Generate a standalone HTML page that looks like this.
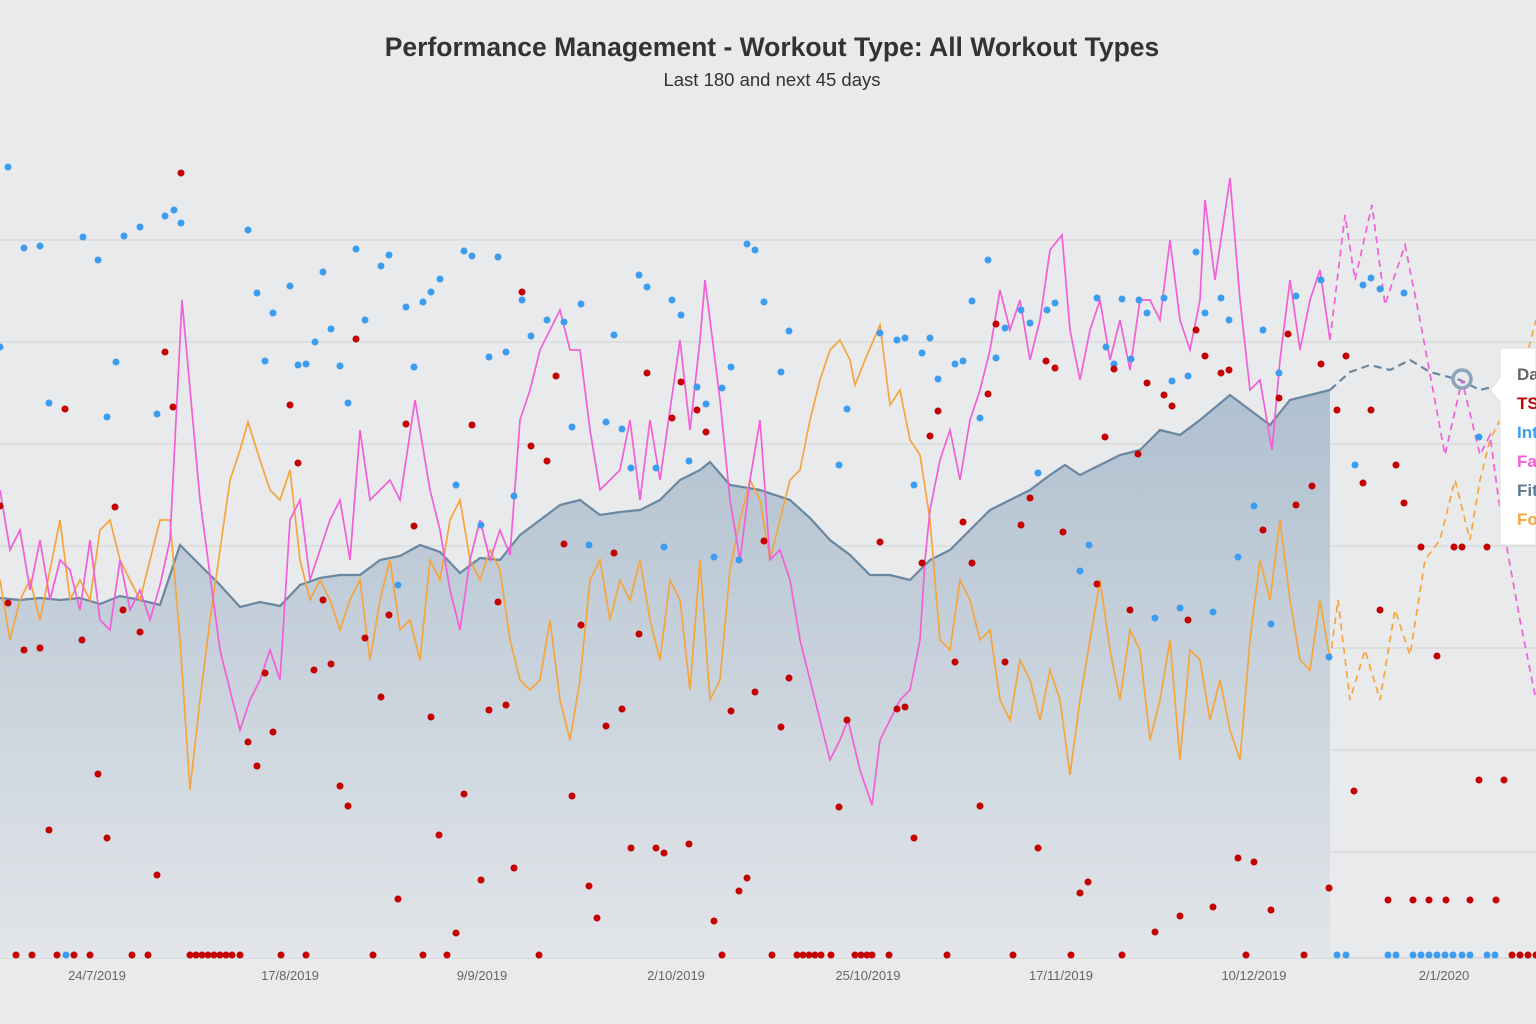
<!DOCTYPE html>
<html><head><meta charset="utf-8"><style>
html,body{margin:0;padding:0;background:#e9eaec;}
svg{display:block;font-family:"Liberation Sans",sans-serif;}
</style></head><body>
<svg width="1536" height="1024" viewBox="0 0 1536 1024" xmlns="http://www.w3.org/2000/svg">
<rect width="1536" height="1024" fill="#e9eaec"/>
<text x="772" y="56" text-anchor="middle" font-size="26.5" font-weight="bold" fill="#333">Performance Management - Workout Type: All Workout Types</text>
<text x="772" y="86" text-anchor="middle" font-size="18.5" fill="#333">Last 180 and next 45 days</text>
<g stroke="#d6d7d9" stroke-width="1.2">
<line x1="0" x2="1536" y1="240" y2="240"/><line x1="0" x2="1536" y1="342" y2="342"/><line x1="0" x2="1536" y1="444" y2="444"/><line x1="0" x2="1536" y1="546" y2="546"/><line x1="0" x2="1536" y1="648" y2="648"/><line x1="0" x2="1536" y1="750" y2="750"/><line x1="0" x2="1536" y1="852" y2="852"/><line x1="0" x2="1536" y1="958" y2="958" stroke="#cfd0d2"/>
</g>
<defs><linearGradient id="g" x1="0" y1="0" x2="0" y2="1"><stop offset="0" stop-color="#afc0cf"/><stop offset="1" stop-color="#e2e5e9"/></linearGradient></defs>
<polygon fill="url(#g)" points="0,958 0,598 20,600 40,598 60,600 80,598 100,604 120,596 140,600 160,605 180,545 200,565 220,585 240,607 260,602 280,606 300,585 320,578 340,575 360,575 380,560 400,556 420,545 440,552 460,573 480,558 500,560 520,535 540,520 560,505 580,500 600,515 620,512 640,510 660,500 680,480 700,470 710,462 730,485 760,490 790,500 810,518 830,540 850,555 870,575 890,575 910,580 930,560 950,550 970,530 990,510 1010,500 1030,490 1050,475 1065,465 1080,475 1100,465 1120,455 1140,450 1160,430 1180,435 1200,420 1230,395 1250,410 1270,425 1290,400 1310,395 1330,390 1330,958"/>
<polyline fill="none" stroke="#6a87a0" stroke-width="2.2" points="0,598 20,600 40,598 60,600 80,598 100,604 120,596 140,600 160,605 180,545 200,565 220,585 240,607 260,602 280,606 300,585 320,578 340,575 360,575 380,560 400,556 420,545 440,552 460,573 480,558 500,560 520,535 540,520 560,505 580,500 600,515 620,512 640,510 660,500 680,480 700,470 710,462 730,485 760,490 790,500 810,518 830,540 850,555 870,575 890,575 910,580 930,560 950,550 970,530 990,510 1010,500 1030,490 1050,475 1065,465 1080,475 1100,465 1120,455 1140,450 1160,430 1180,435 1200,420 1230,395 1250,410 1270,425 1290,400 1310,395 1330,390"/>
<polyline fill="none" stroke="#6a87a0" stroke-width="2.2" stroke-dasharray="8,5" points="1330,390 1350,372 1370,365 1390,370 1410,360 1430,372 1460,380 1480,390 1500,385"/>
<polyline fill="none" stroke="#f5a53c" stroke-width="1.7" points="0,580 10,640 20,600 30,580 40,620 50,570 60,520 70,600 80,580 90,600 100,530 110,520 120,560 130,580 140,600 150,560 160,520 170,520 180,640 190,790 200,700 210,620 220,550 230,480 240,450 248,422 260,460 270,490 280,500 290,470 300,560 310,600 320,580 330,600 340,630 350,600 360,580 370,660 380,600 390,560 400,630 410,620 420,660 430,560 440,580 450,520 460,500 470,560 480,580 490,550 500,570 510,640 520,680 530,690 540,680 550,620 560,700 570,740 580,680 590,580 600,560 610,620 620,580 630,600 640,560 650,620 660,660 670,580 680,600 690,690 700,560 710,700 720,680 730,570 740,520 750,480 760,500 770,560 780,520 790,480 800,470 810,420 820,380 830,350 840,340 850,360 855,385 865,360 880,325 890,405 900,390 910,440 920,455 930,520 940,640 950,650 960,580 970,600 980,640 990,630 1000,700 1010,720 1020,660 1030,680 1040,720 1050,670 1060,700 1070,775 1080,700 1090,640 1100,580 1110,650 1120,700 1130,630 1140,650 1150,740 1160,700 1170,640 1180,760 1190,650 1200,660 1210,720 1220,680 1230,730 1240,760 1250,640 1260,560 1270,600 1280,520 1290,600 1300,660 1310,670 1320,600 1330,660"/>
<polyline fill="none" stroke="#f5a53c" stroke-width="1.7" stroke-dasharray="7,5" points="1330,660 1338,600 1350,700 1365,650 1380,700 1395,610 1410,655 1425,560 1440,540 1455,480 1470,540 1480,480 1490,440 1500,420 1515,400 1536,320"/>
<polyline fill="none" stroke="#f25fd6" stroke-width="1.7" points="0,490 10,550 20,530 30,590 40,540 50,600 60,560 70,570 80,610 90,540 100,620 110,630 120,560 130,610 140,590 150,620 160,585 170,540 182,300 200,500 220,650 240,730 250,700 260,680 270,650 280,680 290,520 300,500 310,580 320,550 330,520 340,500 350,560 360,430 370,500 380,490 390,480 400,500 415,400 430,490 440,530 450,590 460,630 470,560 480,520 490,560 500,530 510,555 520,420 530,390 540,350 550,330 560,310 570,350 580,350 590,430 600,490 610,480 620,470 630,420 640,500 650,420 660,480 670,410 680,340 690,430 700,340 705,280 720,400 730,500 740,560 750,480 760,420 770,560 780,550 790,580 800,640 810,680 820,720 830,760 840,740 848,720 860,770 872,805 880,740 890,720 900,700 910,690 920,640 925,560 930,510 940,460 950,430 960,480 970,420 980,390 990,350 1000,290 1010,330 1020,300 1030,360 1040,320 1050,250 1062,235 1070,330 1080,380 1090,330 1100,300 1110,360 1120,320 1130,370 1140,300 1150,300 1160,320 1170,240 1180,320 1190,350 1200,300 1205,200 1215,280 1230,178 1240,300 1250,390 1260,380 1272,450 1280,360 1290,280 1300,350 1310,300 1320,270 1330,340"/>
<polyline fill="none" stroke="#f25fd6" stroke-width="1.7" stroke-dasharray="7,5" points="1330,340 1345,215 1355,280 1372,205 1385,305 1405,245 1420,320 1445,455 1462,380 1480,455 1490,435 1500,510 1520,620 1536,700"/>
<g fill="#3c9cf0">
<circle cx="8" cy="167" r="3.5"/><circle cx="0" cy="347" r="3.5"/><circle cx="24" cy="248" r="3.5"/><circle cx="40" cy="246" r="3.5"/><circle cx="49" cy="403" r="3.5"/><circle cx="66" cy="955" r="3.5"/><circle cx="83" cy="237" r="3.5"/><circle cx="98" cy="260" r="3.5"/><circle cx="107" cy="417" r="3.5"/><circle cx="116" cy="362" r="3.5"/><circle cx="124" cy="236" r="3.5"/><circle cx="140" cy="227" r="3.5"/><circle cx="157" cy="414" r="3.5"/><circle cx="165" cy="216" r="3.5"/><circle cx="174" cy="210" r="3.5"/><circle cx="181" cy="223" r="3.5"/><circle cx="248" cy="230" r="3.5"/><circle cx="257" cy="293" r="3.5"/><circle cx="265" cy="361" r="3.5"/><circle cx="273" cy="313" r="3.5"/><circle cx="290" cy="286" r="3.5"/><circle cx="298" cy="365" r="3.5"/><circle cx="306" cy="364" r="3.5"/><circle cx="315" cy="342" r="3.5"/><circle cx="323" cy="272" r="3.5"/><circle cx="331" cy="329" r="3.5"/><circle cx="340" cy="366" r="3.5"/><circle cx="348" cy="403" r="3.5"/><circle cx="356" cy="249" r="3.5"/><circle cx="365" cy="320" r="3.5"/><circle cx="381" cy="266" r="3.5"/><circle cx="389" cy="255" r="3.5"/><circle cx="398" cy="585" r="3.5"/><circle cx="406" cy="307" r="3.5"/><circle cx="414" cy="367" r="3.5"/><circle cx="423" cy="302" r="3.5"/><circle cx="431" cy="292" r="3.5"/><circle cx="440" cy="279" r="3.5"/><circle cx="456" cy="485" r="3.5"/><circle cx="464" cy="251" r="3.5"/><circle cx="472" cy="256" r="3.5"/><circle cx="481" cy="525" r="3.5"/><circle cx="489" cy="357" r="3.5"/><circle cx="498" cy="257" r="3.5"/><circle cx="506" cy="352" r="3.5"/><circle cx="514" cy="496" r="3.5"/><circle cx="522" cy="300" r="3.5"/><circle cx="531" cy="336" r="3.5"/><circle cx="547" cy="320" r="3.5"/><circle cx="564" cy="322" r="3.5"/><circle cx="572" cy="427" r="3.5"/><circle cx="581" cy="304" r="3.5"/><circle cx="589" cy="545" r="3.5"/><circle cx="606" cy="422" r="3.5"/><circle cx="614" cy="335" r="3.5"/><circle cx="622" cy="429" r="3.5"/><circle cx="631" cy="468" r="3.5"/><circle cx="639" cy="275" r="3.5"/><circle cx="647" cy="287" r="3.5"/><circle cx="656" cy="468" r="3.5"/><circle cx="664" cy="547" r="3.5"/><circle cx="672" cy="300" r="3.5"/><circle cx="681" cy="315" r="3.5"/><circle cx="689" cy="461" r="3.5"/><circle cx="697" cy="387" r="3.5"/><circle cx="706" cy="404" r="3.5"/><circle cx="714" cy="557" r="3.5"/><circle cx="722" cy="388" r="3.5"/><circle cx="731" cy="367" r="3.5"/><circle cx="739" cy="560" r="3.5"/><circle cx="747" cy="244" r="3.5"/><circle cx="755" cy="250" r="3.5"/><circle cx="764" cy="302" r="3.5"/><circle cx="781" cy="372" r="3.5"/><circle cx="789" cy="331" r="3.5"/><circle cx="839" cy="465" r="3.5"/><circle cx="847" cy="409" r="3.5"/><circle cx="880" cy="333" r="3.5"/><circle cx="897" cy="340" r="3.5"/><circle cx="905" cy="338" r="3.5"/><circle cx="914" cy="485" r="3.5"/><circle cx="922" cy="353" r="3.5"/><circle cx="930" cy="338" r="3.5"/><circle cx="938" cy="379" r="3.5"/><circle cx="955" cy="364" r="3.5"/><circle cx="963" cy="361" r="3.5"/><circle cx="972" cy="301" r="3.5"/><circle cx="980" cy="418" r="3.5"/><circle cx="988" cy="260" r="3.5"/><circle cx="996" cy="358" r="3.5"/><circle cx="1005" cy="328" r="3.5"/><circle cx="1021" cy="310" r="3.5"/><circle cx="1030" cy="323" r="3.5"/><circle cx="1038" cy="473" r="3.5"/><circle cx="1047" cy="310" r="3.5"/><circle cx="1055" cy="303" r="3.5"/><circle cx="1080" cy="571" r="3.5"/><circle cx="1089" cy="545" r="3.5"/><circle cx="1097" cy="298" r="3.5"/><circle cx="1106" cy="347" r="3.5"/><circle cx="1114" cy="364" r="3.5"/><circle cx="1122" cy="299" r="3.5"/><circle cx="1131" cy="359" r="3.5"/><circle cx="1139" cy="300" r="3.5"/><circle cx="1147" cy="313" r="3.5"/><circle cx="1155" cy="618" r="3.5"/><circle cx="1164" cy="298" r="3.5"/><circle cx="1172" cy="381" r="3.5"/><circle cx="1180" cy="608" r="3.5"/><circle cx="1188" cy="376" r="3.5"/><circle cx="1196" cy="252" r="3.5"/><circle cx="1205" cy="313" r="3.5"/><circle cx="1213" cy="612" r="3.5"/><circle cx="1221" cy="298" r="3.5"/><circle cx="1229" cy="320" r="3.5"/><circle cx="1238" cy="557" r="3.5"/><circle cx="1254" cy="506" r="3.5"/><circle cx="1263" cy="330" r="3.5"/><circle cx="1271" cy="624" r="3.5"/><circle cx="1279" cy="373" r="3.5"/><circle cx="1296" cy="296" r="3.5"/><circle cx="1321" cy="280" r="3.5"/><circle cx="1329" cy="657" r="3.5"/><circle cx="1337" cy="955" r="3.5"/><circle cx="1346" cy="955" r="3.5"/><circle cx="1355" cy="465" r="3.5"/><circle cx="1363" cy="285" r="3.5"/><circle cx="1371" cy="278" r="3.5"/><circle cx="1380" cy="289" r="3.5"/><circle cx="1388" cy="955" r="3.5"/><circle cx="1396" cy="955" r="3.5"/><circle cx="1404" cy="293" r="3.5"/><circle cx="1413" cy="955" r="3.5"/><circle cx="1421" cy="955" r="3.5"/><circle cx="1429" cy="955" r="3.5"/><circle cx="1437" cy="955" r="3.5"/><circle cx="1445" cy="955" r="3.5"/><circle cx="1453" cy="955" r="3.5"/><circle cx="1462" cy="955" r="3.5"/><circle cx="1470" cy="955" r="3.5"/><circle cx="1479" cy="437" r="3.5"/><circle cx="1487" cy="955" r="3.5"/><circle cx="1495" cy="955" r="3.5"/>
</g>
<g fill="#c40000">
<circle cx="0" cy="506" r="3.5"/><circle cx="8" cy="603" r="3.5"/><circle cx="16" cy="955" r="3.5"/><circle cx="24" cy="650" r="3.5"/><circle cx="32" cy="955" r="3.5"/><circle cx="40" cy="648" r="3.5"/><circle cx="49" cy="830" r="3.5"/><circle cx="57" cy="955" r="3.5"/><circle cx="65" cy="409" r="3.5"/><circle cx="74" cy="955" r="3.5"/><circle cx="82" cy="640" r="3.5"/><circle cx="90" cy="955" r="3.5"/><circle cx="98" cy="774" r="3.5"/><circle cx="107" cy="838" r="3.5"/><circle cx="115" cy="507" r="3.5"/><circle cx="123" cy="610" r="3.5"/><circle cx="132" cy="955" r="3.5"/><circle cx="140" cy="632" r="3.5"/><circle cx="148" cy="955" r="3.5"/><circle cx="157" cy="875" r="3.5"/><circle cx="165" cy="352" r="3.5"/><circle cx="173" cy="407" r="3.5"/><circle cx="181" cy="173" r="3.5"/><circle cx="190" cy="955" r="3.5"/><circle cx="196" cy="955" r="3.5"/><circle cx="202" cy="955" r="3.5"/><circle cx="208" cy="955" r="3.5"/><circle cx="214" cy="955" r="3.5"/><circle cx="220" cy="955" r="3.5"/><circle cx="226" cy="955" r="3.5"/><circle cx="232" cy="955" r="3.5"/><circle cx="240" cy="955" r="3.5"/><circle cx="248" cy="742" r="3.5"/><circle cx="257" cy="766" r="3.5"/><circle cx="265" cy="673" r="3.5"/><circle cx="273" cy="732" r="3.5"/><circle cx="281" cy="955" r="3.5"/><circle cx="290" cy="405" r="3.5"/><circle cx="298" cy="463" r="3.5"/><circle cx="306" cy="955" r="3.5"/><circle cx="314" cy="670" r="3.5"/><circle cx="323" cy="600" r="3.5"/><circle cx="331" cy="664" r="3.5"/><circle cx="340" cy="786" r="3.5"/><circle cx="348" cy="806" r="3.5"/><circle cx="356" cy="339" r="3.5"/><circle cx="365" cy="638" r="3.5"/><circle cx="373" cy="955" r="3.5"/><circle cx="381" cy="697" r="3.5"/><circle cx="389" cy="615" r="3.5"/><circle cx="398" cy="899" r="3.5"/><circle cx="406" cy="424" r="3.5"/><circle cx="414" cy="526" r="3.5"/><circle cx="423" cy="955" r="3.5"/><circle cx="431" cy="717" r="3.5"/><circle cx="439" cy="835" r="3.5"/><circle cx="447" cy="955" r="3.5"/><circle cx="456" cy="933" r="3.5"/><circle cx="464" cy="794" r="3.5"/><circle cx="472" cy="425" r="3.5"/><circle cx="481" cy="880" r="3.5"/><circle cx="489" cy="710" r="3.5"/><circle cx="498" cy="602" r="3.5"/><circle cx="506" cy="705" r="3.5"/><circle cx="514" cy="868" r="3.5"/><circle cx="522" cy="292" r="3.5"/><circle cx="531" cy="446" r="3.5"/><circle cx="539" cy="955" r="3.5"/><circle cx="547" cy="461" r="3.5"/><circle cx="556" cy="376" r="3.5"/><circle cx="564" cy="544" r="3.5"/><circle cx="572" cy="796" r="3.5"/><circle cx="581" cy="625" r="3.5"/><circle cx="589" cy="886" r="3.5"/><circle cx="597" cy="918" r="3.5"/><circle cx="606" cy="726" r="3.5"/><circle cx="614" cy="553" r="3.5"/><circle cx="622" cy="709" r="3.5"/><circle cx="631" cy="848" r="3.5"/><circle cx="639" cy="634" r="3.5"/><circle cx="647" cy="373" r="3.5"/><circle cx="656" cy="848" r="3.5"/><circle cx="664" cy="853" r="3.5"/><circle cx="672" cy="418" r="3.5"/><circle cx="681" cy="382" r="3.5"/><circle cx="689" cy="844" r="3.5"/><circle cx="697" cy="410" r="3.5"/><circle cx="706" cy="432" r="3.5"/><circle cx="714" cy="921" r="3.5"/><circle cx="722" cy="955" r="3.5"/><circle cx="731" cy="711" r="3.5"/><circle cx="739" cy="891" r="3.5"/><circle cx="747" cy="878" r="3.5"/><circle cx="755" cy="692" r="3.5"/><circle cx="764" cy="541" r="3.5"/><circle cx="772" cy="955" r="3.5"/><circle cx="781" cy="727" r="3.5"/><circle cx="789" cy="678" r="3.5"/><circle cx="797" cy="955" r="3.5"/><circle cx="803" cy="955" r="3.5"/><circle cx="809" cy="955" r="3.5"/><circle cx="815" cy="955" r="3.5"/><circle cx="821" cy="955" r="3.5"/><circle cx="831" cy="955" r="3.5"/><circle cx="839" cy="807" r="3.5"/><circle cx="847" cy="720" r="3.5"/><circle cx="855" cy="955" r="3.5"/><circle cx="861" cy="955" r="3.5"/><circle cx="867" cy="955" r="3.5"/><circle cx="872" cy="955" r="3.5"/><circle cx="880" cy="542" r="3.5"/><circle cx="889" cy="955" r="3.5"/><circle cx="897" cy="709" r="3.5"/><circle cx="905" cy="707" r="3.5"/><circle cx="914" cy="838" r="3.5"/><circle cx="922" cy="563" r="3.5"/><circle cx="930" cy="436" r="3.5"/><circle cx="938" cy="411" r="3.5"/><circle cx="947" cy="955" r="3.5"/><circle cx="955" cy="662" r="3.5"/><circle cx="963" cy="522" r="3.5"/><circle cx="972" cy="563" r="3.5"/><circle cx="980" cy="806" r="3.5"/><circle cx="988" cy="394" r="3.5"/><circle cx="996" cy="324" r="3.5"/><circle cx="1005" cy="662" r="3.5"/><circle cx="1013" cy="955" r="3.5"/><circle cx="1021" cy="525" r="3.5"/><circle cx="1030" cy="498" r="3.5"/><circle cx="1038" cy="848" r="3.5"/><circle cx="1046" cy="361" r="3.5"/><circle cx="1055" cy="368" r="3.5"/><circle cx="1063" cy="532" r="3.5"/><circle cx="1071" cy="955" r="3.5"/><circle cx="1080" cy="893" r="3.5"/><circle cx="1088" cy="882" r="3.5"/><circle cx="1097" cy="584" r="3.5"/><circle cx="1105" cy="437" r="3.5"/><circle cx="1114" cy="369" r="3.5"/><circle cx="1122" cy="955" r="3.5"/><circle cx="1130" cy="610" r="3.5"/><circle cx="1138" cy="454" r="3.5"/><circle cx="1147" cy="383" r="3.5"/><circle cx="1155" cy="932" r="3.5"/><circle cx="1164" cy="395" r="3.5"/><circle cx="1172" cy="406" r="3.5"/><circle cx="1180" cy="916" r="3.5"/><circle cx="1188" cy="620" r="3.5"/><circle cx="1196" cy="330" r="3.5"/><circle cx="1205" cy="356" r="3.5"/><circle cx="1213" cy="907" r="3.5"/><circle cx="1221" cy="373" r="3.5"/><circle cx="1229" cy="370" r="3.5"/><circle cx="1238" cy="858" r="3.5"/><circle cx="1246" cy="955" r="3.5"/><circle cx="1254" cy="862" r="3.5"/><circle cx="1263" cy="530" r="3.5"/><circle cx="1271" cy="910" r="3.5"/><circle cx="1279" cy="398" r="3.5"/><circle cx="1288" cy="334" r="3.5"/><circle cx="1296" cy="505" r="3.5"/><circle cx="1304" cy="955" r="3.5"/><circle cx="1312" cy="486" r="3.5"/><circle cx="1321" cy="364" r="3.5"/><circle cx="1329" cy="888" r="3.5"/><circle cx="1337" cy="410" r="3.5"/><circle cx="1346" cy="356" r="3.5"/><circle cx="1354" cy="791" r="3.5"/><circle cx="1363" cy="483" r="3.5"/><circle cx="1371" cy="410" r="3.5"/><circle cx="1380" cy="610" r="3.5"/><circle cx="1388" cy="900" r="3.5"/><circle cx="1396" cy="465" r="3.5"/><circle cx="1404" cy="503" r="3.5"/><circle cx="1413" cy="900" r="3.5"/><circle cx="1421" cy="547" r="3.5"/><circle cx="1429" cy="900" r="3.5"/><circle cx="1437" cy="656" r="3.5"/><circle cx="1446" cy="900" r="3.5"/><circle cx="1454" cy="547" r="3.5"/><circle cx="1462" cy="547" r="3.5"/><circle cx="1470" cy="900" r="3.5"/><circle cx="1479" cy="780" r="3.5"/><circle cx="1487" cy="547" r="3.5"/><circle cx="1496" cy="900" r="3.5"/><circle cx="1504" cy="780" r="3.5"/><circle cx="1512" cy="955" r="3.5"/><circle cx="1520" cy="955" r="3.5"/><circle cx="1528" cy="955" r="3.5"/><circle cx="1536" cy="955" r="3.5"/>
</g>
<circle cx="1462" cy="379" r="9" fill="none" stroke="#8ea4b8" stroke-width="3.5"/>
<g font-size="13" fill="#666" text-anchor="middle">
<text x="97" y="980">24/7/2019</text><text x="290" y="980">17/8/2019</text><text x="482" y="980">9/9/2019</text><text x="676" y="980">2/10/2019</text><text x="868" y="980">25/10/2019</text><text x="1061" y="980">17/11/2019</text><text x="1254" y="980">10/12/2019</text><text x="1444" y="980">2/1/2020</text>
</g>
<path d="M1500,348 L1536,348 L1536,545 L1500,545 L1500,402 L1490,390 L1500,378 Z" fill="#fff" stroke="#e0e0e0"/>
<g font-size="17" font-weight="bold">
<text x="1517" y="380" fill="#666">Date</text>
<text x="1517" y="409" fill="#c40000">TSS</text>
<text x="1517" y="438" fill="#3c9cf0">Intensity</text>
<text x="1517" y="467" fill="#f25fd6">Fatigue</text>
<text x="1517" y="496" fill="#5a7a96">Fitness</text>
<text x="1517" y="525" fill="#f5a53c">Form</text>
</g>
</svg>
</body></html>
